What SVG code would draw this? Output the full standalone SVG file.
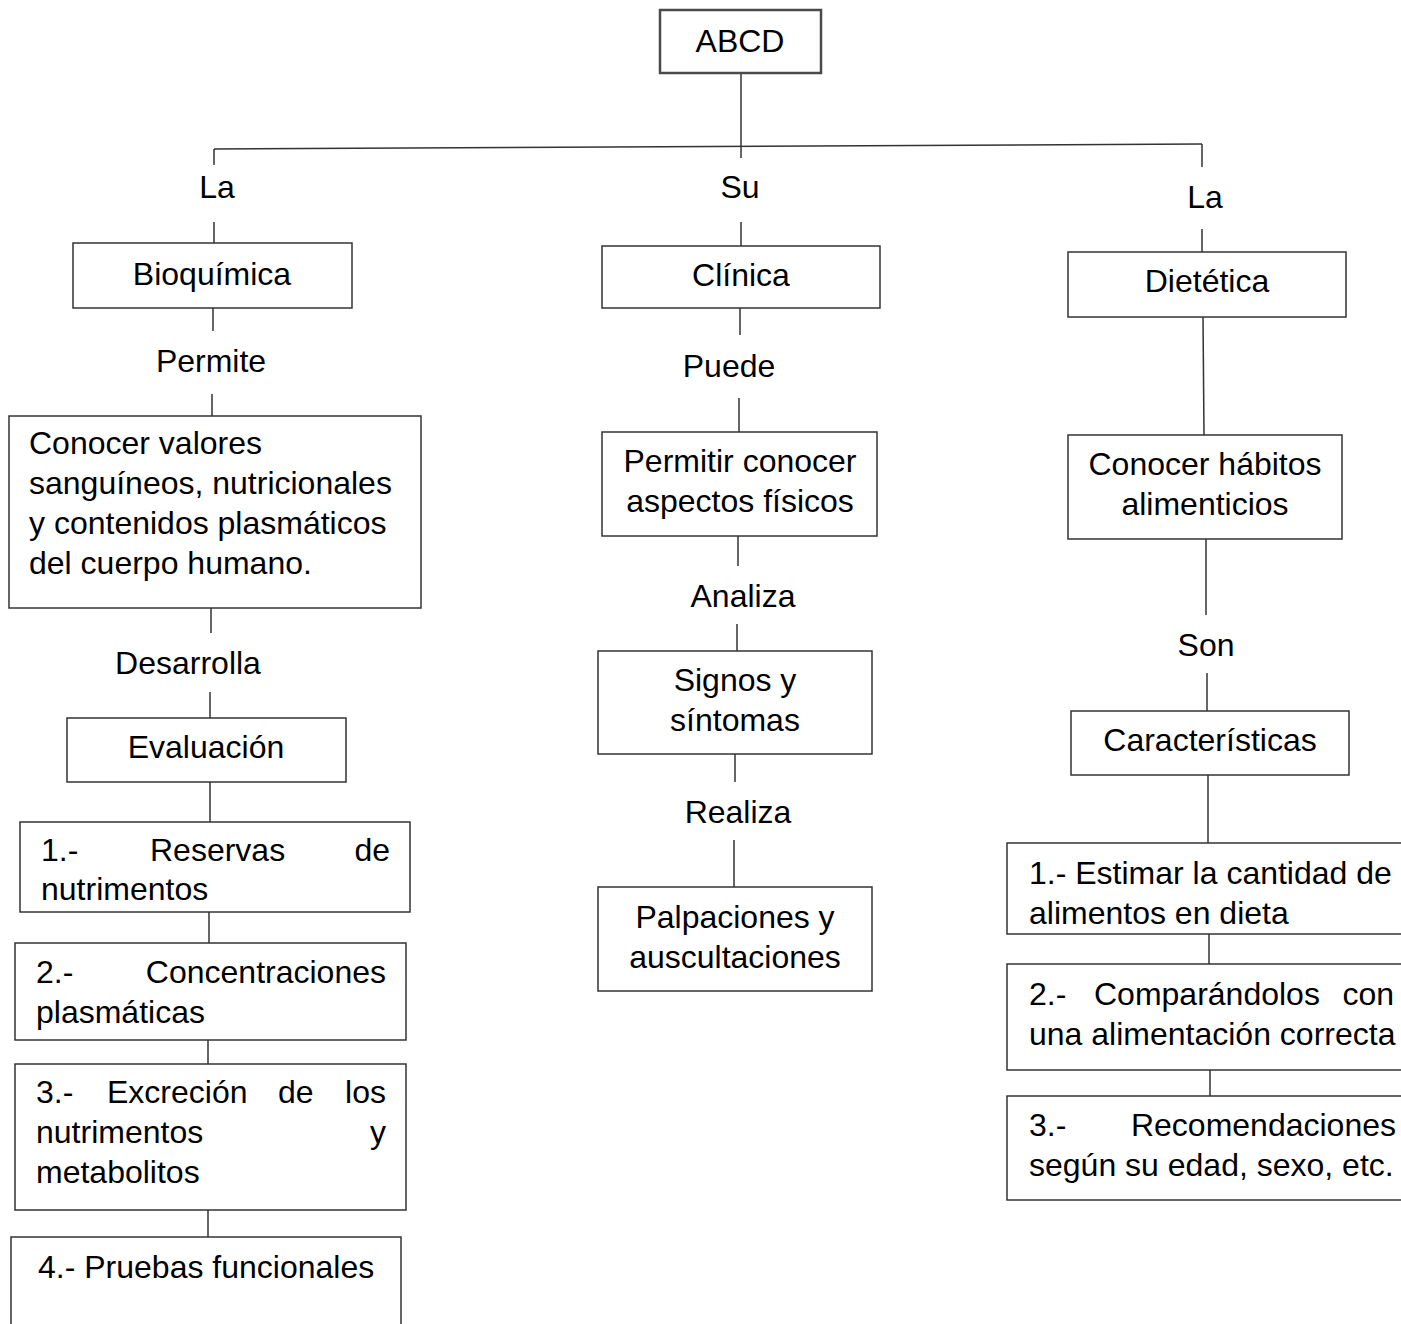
<svg xmlns="http://www.w3.org/2000/svg" width="1401" height="1324" viewBox="0 0 1401 1324">
<style>
  .box { fill: #ffffff; stroke: #333333; stroke-width: 1.5; }
  .top { fill: #ffffff; stroke: #4a4a4a; stroke-width: 2.5; }
  .ln { stroke: #333333; stroke-width: 1.5; fill: none; }
  text { font-family: "Liberation Sans", Arial, sans-serif; font-size: 32px; fill: #000000; }
  .c { text-anchor: middle; }
  .e { text-anchor: end; }
</style>
<rect width="1401" height="1324" fill="#ffffff"/>

<g id="connectors">
  <line class="ln" x1="741" y1="73" x2="741" y2="158"/>
  <line class="ln" x1="214" y1="149" x2="1202" y2="144"/>
  <line class="ln" x1="214" y1="149" x2="214" y2="165"/>
  <line class="ln" x1="1202" y1="144" x2="1202" y2="167"/>
  <!-- left column -->
  <line class="ln" x1="214" y1="222" x2="214" y2="243"/>
  <line class="ln" x1="213" y1="308" x2="213" y2="331"/>
  <line class="ln" x1="212" y1="394" x2="212" y2="416"/>
  <line class="ln" x1="211" y1="608" x2="211" y2="633"/>
  <line class="ln" x1="210" y1="692" x2="210" y2="718"/>
  <line class="ln" x1="210" y1="782" x2="210" y2="822"/>
  <line class="ln" x1="209" y1="912" x2="209" y2="943"/>
  <line class="ln" x1="208" y1="1040" x2="208" y2="1064"/>
  <line class="ln" x1="208" y1="1210" x2="208" y2="1237"/>
  <!-- middle column -->
  <line class="ln" x1="741" y1="222" x2="741" y2="246"/>
  <line class="ln" x1="740" y1="308" x2="740" y2="335"/>
  <line class="ln" x1="739" y1="398" x2="739" y2="432"/>
  <line class="ln" x1="738" y1="536" x2="738" y2="566"/>
  <line class="ln" x1="737" y1="624" x2="737" y2="651"/>
  <line class="ln" x1="735" y1="754" x2="735" y2="782"/>
  <line class="ln" x1="734" y1="840" x2="734" y2="887"/>
  <!-- right column -->
  <line class="ln" x1="1202" y1="229" x2="1202" y2="252"/>
  <line class="ln" x1="1203" y1="317" x2="1204" y2="435"/>
  <line class="ln" x1="1206" y1="539" x2="1206" y2="615"/>
  <line class="ln" x1="1207" y1="673" x2="1207" y2="711"/>
  <line class="ln" x1="1208" y1="775" x2="1208" y2="843"/>
  <line class="ln" x1="1209" y1="934" x2="1209" y2="964"/>
  <line class="ln" x1="1210" y1="1070" x2="1210" y2="1096"/>
</g>

<g id="labels">
  <text class="c" x="217" y="198">La</text>
  <text class="c" x="740" y="198">Su</text>
  <text class="c" x="1205" y="208">La</text>
  <text class="c" x="211" y="372">Permite</text>
  <text class="c" x="188" y="674">Desarrolla</text>
  <text class="c" x="729" y="377">Puede</text>
  <text class="c" x="743" y="607">Analiza</text>
  <text class="c" x="738" y="823">Realiza</text>
  <text class="c" x="1206" y="656">Son</text>
</g>

<g id="n-abcd">
  <rect class="top" x="660" y="10" width="161" height="63"/>
  <text class="c" x="740" y="52">ABCD</text>
</g>

<g id="n-bioquimica">
  <rect class="box" x="73" y="243" width="279" height="65"/>
  <text class="c" x="212" y="285">Bioquímica</text>
</g>
<g id="n-conocer-valores">
  <rect class="box" x="9" y="416" width="412" height="192"/>
  <text x="29" y="454">Conocer valores</text>
  <text x="29" y="494">sanguíneos, nutricionales</text>
  <text x="29" y="534">y contenidos plasmáticos</text>
  <text x="29" y="574">del cuerpo humano.</text>
</g>
<g id="n-evaluacion">
  <rect class="box" x="67" y="718" width="279" height="64"/>
  <text class="c" x="206" y="758">Evaluación</text>
</g>
<g id="n-reservas">
  <rect class="box" x="20" y="822" width="390" height="90"/>
  <text x="41" y="861">1.-</text>
  <text x="150" y="861">Reservas</text>
  <text class="e" x="390" y="861">de</text>
  <text x="41" y="900">nutrimentos</text>
</g>
<g id="n-concentraciones">
  <rect class="box" x="15" y="943" width="391" height="97"/>
  <text x="36" y="983">2.-</text>
  <text class="e" x="386" y="983">Concentraciones</text>
  <text x="36" y="1023">plasmáticas</text>
</g>
<g id="n-excrecion">
  <rect class="box" x="15" y="1064" width="391" height="146"/>
  <text x="36" y="1103">3.-</text>
  <text x="107" y="1103">Excreción</text>
  <text x="278" y="1103">de</text>
  <text class="e" x="386" y="1103">los</text>
  <text x="36" y="1143">nutrimentos</text>
  <text class="e" x="386" y="1143">y</text>
  <text x="36" y="1183">metabolitos</text>
</g>
<g id="n-pruebas">
  <rect class="box" x="11" y="1237" width="390" height="110"/>
  <text x="38" y="1278">4.- Pruebas funcionales</text>
</g>

<g id="n-clinica">
  <rect class="box" x="602" y="246" width="278" height="62"/>
  <text class="c" x="741" y="286">Clínica</text>
</g>
<g id="n-permitir">
  <rect class="box" x="602" y="432" width="275" height="104"/>
  <text class="c" x="740" y="472">Permitir conocer</text>
  <text class="c" x="740" y="512">aspectos físicos</text>
</g>
<g id="n-signos">
  <rect class="box" x="598" y="651" width="274" height="103"/>
  <text class="c" x="735" y="691">Signos y</text>
  <text class="c" x="735" y="731">síntomas</text>
</g>
<g id="n-palpaciones">
  <rect class="box" x="598" y="887" width="274" height="104"/>
  <text class="c" x="735" y="928">Palpaciones y</text>
  <text class="c" x="735" y="968">auscultaciones</text>
</g>

<g id="n-dietetica">
  <rect class="box" x="1068" y="252" width="278" height="65"/>
  <text class="c" x="1207" y="292">Dietética</text>
</g>
<g id="n-habitos">
  <rect class="box" x="1068" y="435" width="274" height="104"/>
  <text class="c" x="1205" y="475">Conocer hábitos</text>
  <text class="c" x="1205" y="515">alimenticios</text>
</g>
<g id="n-caracteristicas">
  <rect class="box" x="1071" y="711" width="278" height="64"/>
  <text class="c" x="1210" y="751">Características</text>
</g>
<g id="n-estimar">
  <rect class="box" x="1007" y="843" width="420" height="91"/>
  <text x="1029" y="884">1.- Estimar la cantidad de</text>
  <text x="1029" y="924">alimentos en dieta</text>
</g>
<g id="n-comparandolos">
  <rect class="box" x="1007" y="964" width="420" height="106"/>
  <text x="1029" y="1005">2.-</text>
  <text x="1094" y="1005">Comparándolos</text>
  <text class="e" x="1394" y="1005">con</text>
  <text x="1029" y="1045">una alimentación correcta</text>
</g>
<g id="n-recomendaciones">
  <rect class="box" x="1007" y="1096" width="420" height="104"/>
  <text x="1029" y="1136">3.-</text>
  <text class="e" x="1396" y="1136">Recomendaciones</text>
  <text x="1029" y="1176">según su edad, sexo, etc.</text>
</g>
</svg>
